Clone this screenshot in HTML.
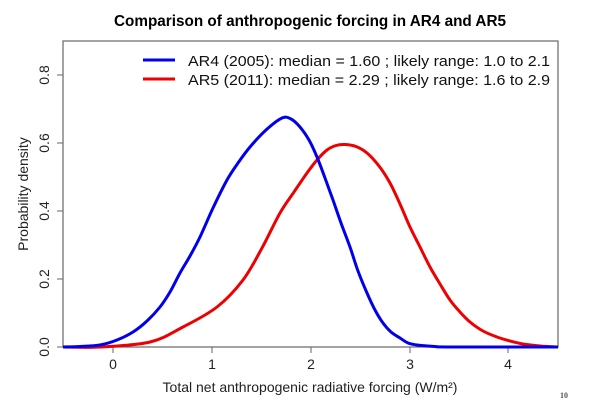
<!DOCTYPE html>
<html><head><meta charset="utf-8"><style>body{margin:0;background:#fff}svg{display:block}</style></head>
<body>
<svg id="s" width="600" height="401" viewBox="0 0 600 401" xmlns="http://www.w3.org/2000/svg" font-family="Liberation Sans, Arial, sans-serif">
<rect width="600" height="401" fill="#fff"/>
<text x="310" y="26" text-anchor="middle" font-size="15.5" font-weight="bold" textLength="392" lengthAdjust="spacingAndGlyphs">Comparison of anthropogenic forcing in AR4 and AR5</text>
<rect x="63" y="41" width="495" height="306" fill="none" stroke="#666" stroke-width="1.2"/>
<g stroke="#666" stroke-width="1">
<line x1="113" y1="347" x2="113" y2="353"/><line x1="212" y1="347" x2="212" y2="353"/><line x1="311" y1="347" x2="311" y2="353"/><line x1="410" y1="347" x2="410" y2="353"/><line x1="508" y1="347" x2="508" y2="353"/>
<line x1="57" y1="347" x2="63" y2="347"/><line x1="57" y1="279" x2="63" y2="279"/><line x1="57" y1="211" x2="63" y2="211"/><line x1="57" y1="143" x2="63" y2="143"/><line x1="57" y1="75" x2="63" y2="75"/>
</g>
<g font-size="14" fill="#222" text-anchor="middle">
<text x="113" y="369">0</text><text x="212" y="369">1</text><text x="311" y="369">2</text><text x="410" y="369">3</text><text x="508" y="369">4</text>
<text transform="translate(49,347) rotate(-90)">0.0</text>
<text transform="translate(49,279) rotate(-90)">0.2</text>
<text transform="translate(49,211) rotate(-90)">0.4</text>
<text transform="translate(49,143) rotate(-90)">0.6</text>
<text transform="translate(49,75) rotate(-90)">0.8</text>
<text x="310" y="392">Total net anthropogenic radiative forcing (W/m²)</text>
<text transform="translate(28,194) rotate(-90)">Probability density</text>
</g>
<text x="560" y="398" font-size="8" font-family="Liberation Serif, serif" font-weight="bold" fill="#555">10</text>
<path id="red" fill="none" stroke="#e00" stroke-width="3" stroke-linejoin="round"/>
<path id="blue" fill="none" stroke="#00e" stroke-width="3" stroke-linejoin="round"/>
<line x1="143" y1="60" x2="175" y2="60" stroke="#00e" stroke-width="3"/>
<line x1="143" y1="79" x2="175" y2="79" stroke="#e00" stroke-width="3"/>
<g font-size="15" fill="#111">
<text x="188" y="66" textLength="362" lengthAdjust="spacingAndGlyphs">AR4 (2005): median = 1.60 ; likely range: 1.0 to 2.1</text>
<text x="188" y="85" textLength="362" lengthAdjust="spacingAndGlyphs">AR5 (2011): median = 2.29 ; likely range: 1.6 to 2.9</text>
</g>
</svg>
<script>
function cr(p){var d="M"+p[0][0]+","+p[0][1];for(var i=0;i<p.length-1;i++){var a=p[i-1]||p[i],b=p[i],c=p[i+1],e=p[i+2]||c;
d+=" C"+(b[0]+(c[0]-a[0])/6)+","+(b[1]+(c[1]-a[1])/6)+" "+(c[0]-(e[0]-b[0])/6)+","+(c[1]-(e[1]-b[1])/6)+" "+c[0]+","+c[1];}return d;}
var R=[[63,347],[100,347],[150,342],[183,327],[217,307],[243,280],[262,248],[280,213],[294,192],[307,173],[317,160],[327,150],[336,145.5],[345,144.5],[356,146.5],[367,153],[379,166],[390,183],[400,204],[410,227],[420,247],[430,267],[440,284],[450,300],[460,312],[470,322],[483,331],[497,337],[510,341],[523,344],[540,346],[558,347]];
var B=[[63,347],[80,346.5],[100,345],[117,340],[133,332],[147,321],[160,307],[170,292],[180,273],[190,256],[200,237],[213,208],[227,180],[238,163],[250,147],[266,130],[282,118],[291,119],[300,127],[309,140],[317,157],[325,178],[333,200],[341,223],[350,247],[358,271],[367,293],[375,310],[383,323],[391,332],[400,338],[408,343],[417,345],[435,346.5],[450,347],[558,347]];
document.getElementById("red").setAttribute("d",cr(R));
document.getElementById("blue").setAttribute("d",cr(B));
</script>
</body></html>
